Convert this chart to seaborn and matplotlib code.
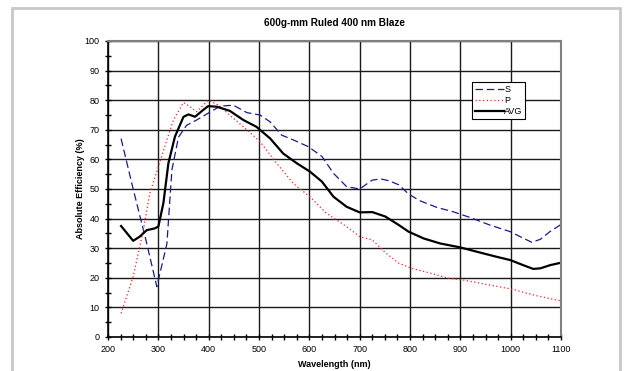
import numpy as np
import pandas as pd
import seaborn as sns
import matplotlib
matplotlib.use("Agg")
import matplotlib.pyplot as plt
from matplotlib.patches import Rectangle
from matplotlib.ticker import MultipleLocator

s_wl = [226, 250, 275, 297, 317, 327, 340, 356, 376, 403, 423, 449, 476, 502, 522, 545, 568, 598,
        625, 648, 674, 700, 725, 742, 758, 778, 797, 820, 853, 886, 919, 959, 999, 1026, 1042,
        1059, 1078, 1100]
s_val = [67, 50, 33, 17, 31.5, 56.5, 67.5, 71.5, 73.3, 76, 78, 78.3, 75.8, 75, 72.7, 68.2, 66.6, 64.3,
         61, 55.3, 50.8, 50, 53, 53.4, 52.8, 51.4, 48.3, 46, 43.8, 42.3, 40.4, 37.8, 35.6, 33.3, 32,
         33, 35.6, 38]

p_wl = [226, 250, 270, 283, 300, 317, 330, 350, 363, 376, 399, 419, 449, 476, 502, 535, 568, 601,
        634, 674, 700, 725, 751, 778, 805, 838, 878, 904, 951, 1004, 1050, 1100]
p_val = [8, 20.4, 36, 48.5, 57.5, 66.6, 73.3, 79.2, 77.8, 76.1, 80, 78.4, 73.9, 70, 66, 58.7, 51.9, 47.4,
         41.8, 37.3, 33.9, 32.8, 28.5, 24.9, 23.1, 21.7, 19.8, 19.3, 17.8, 16.1, 14, 12.2]

a_wl = [226, 250, 263, 277, 293, 300, 310, 320, 333, 350, 360, 373, 389, 399, 416, 442, 469, 495,
        522, 548, 575, 601, 625, 648, 674, 700, 725, 751, 778, 797, 827, 860, 899, 933, 972, 999,
        1026, 1045, 1059, 1079, 1100]
a_val = [37.5, 32.5, 33.9, 36.1, 36.7, 37.3, 45.2, 58.7, 67.7, 74.4, 75.2, 74.4, 76.7, 78, 77.8, 76.4, 73.3, 71,
         67.1, 62, 58.7, 55.9, 52.5, 47.4, 44, 42.1, 42.2, 40.7, 37.8, 35.6, 33.3, 31.6, 30.3, 28.8, 27.1, 26,
         24.2, 23, 23.2, 24.3, 25.1]

plt.rcParams['font.family'] = ['Liberation Sans', 'DejaVu Sans']

fig = plt.figure(figsize=(6.28, 3.71), dpi=100)
ax = fig.add_axes([108/628, 1-337/371, (561-108)/628, (337-41)/371])

sns.lineplot(x=s_wl, y=s_val, ax=ax, color='#1a1a8c', lw=0.9, label='S', sort=False)
ax.lines[-1].set_dashes([6, 3])
sns.lineplot(x=p_wl, y=p_val, ax=ax, color='#ff2020', lw=0.9, label='P', sort=False)
ax.lines[-1].set_linestyle((0, (1, 2)))
sns.lineplot(x=a_wl, y=a_val, ax=ax, color='black', lw=1.6, label='AVG', sort=False)

ax.set_xlim(200, 1100)
ax.set_ylim(0, 100)
ax.xaxis.set_major_locator(MultipleLocator(100))
ax.xaxis.set_minor_locator(MultipleLocator(25))
ax.yaxis.set_major_locator(MultipleLocator(10))
ax.yaxis.set_minor_locator(MultipleLocator(5))
ax.grid(True, which='major', color='#1a1a1a', lw=1.0)
ax.set_axisbelow(True)
ax.tick_params(which='both', direction='inout', labelsize=6.5, color='black')
ax.tick_params(which='major', length=5, width=1)
ax.tick_params(which='minor', length=4, width=1)
for sp in ['top', 'right']:
    ax.spines[sp].set_color('#808080')
    ax.spines[sp].set_linewidth(1.5)
for sp in ['left', 'bottom']:
    ax.spines[sp].set_color('black')
    ax.spines[sp].set_linewidth(1.2)

ax.set_xlabel('Wavelength (nm)', fontsize=6.5, fontweight='bold', labelpad=4)
ax.set_ylabel('Absolute Efficiency (%)', fontsize=6.5, fontweight='bold', labelpad=0)
ax.set_title('600g-mm Ruled 400 nm Blaze', fontsize=7.2, fontweight='bold', pad=11)

leg = ax.legend(loc='upper left', bbox_to_anchor=((472-108)/453, 1-(82-41)/296),
                fontsize=6.5, frameon=True, fancybox=False, framealpha=1,
                edgecolor='black', handlelength=3.2, handletextpad=0.05,
                borderpad=0.3, labelspacing=0.25, borderaxespad=0)
leg.get_frame().set_linewidth(0.8)

fig.patches.append(Rectangle((12/628, -0.05), (620-12)/628, 1-8/371+0.05,
                             transform=fig.transFigure, fill=False,
                             edgecolor='#c8c8c8', lw=2))

fig.savefig('out.png', dpi=100)
